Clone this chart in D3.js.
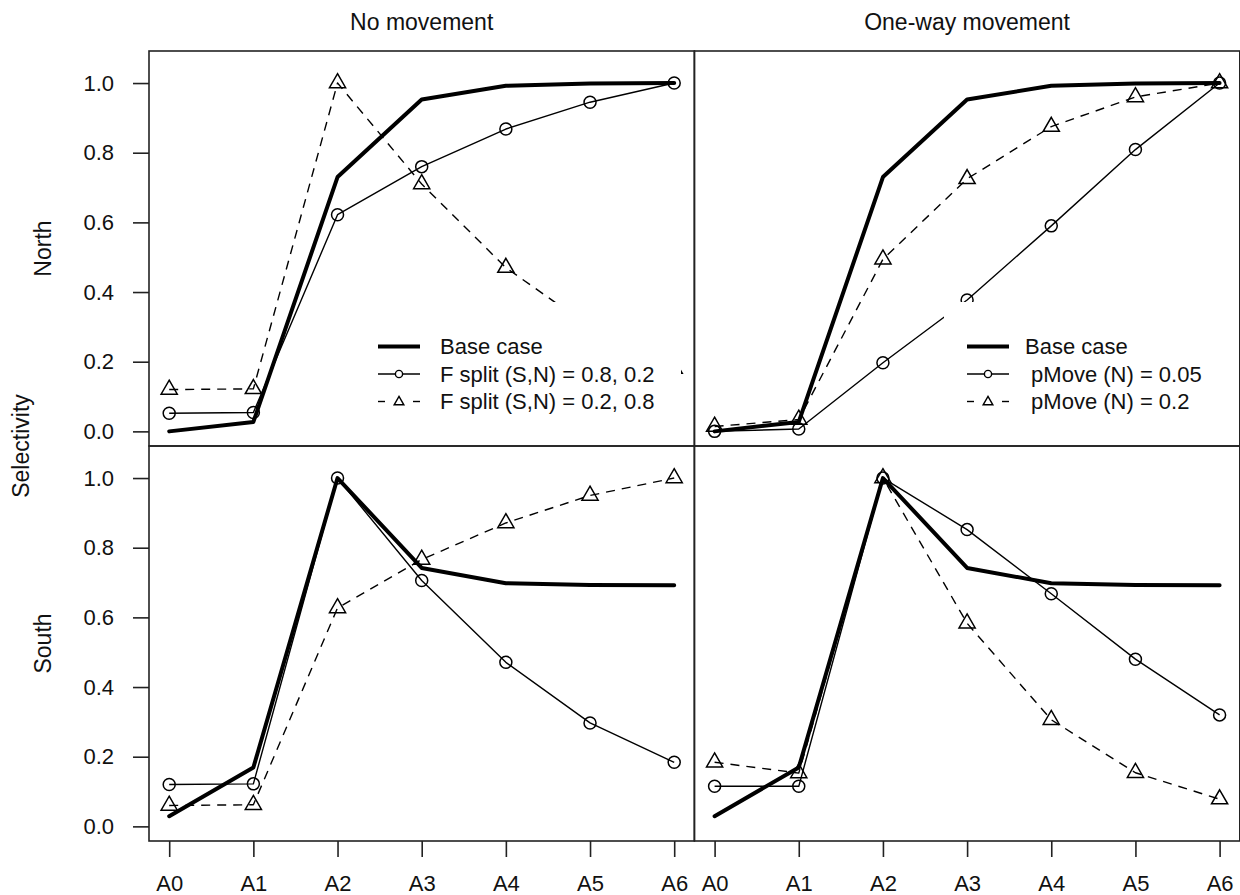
<!DOCTYPE html>
<html>
<head>
<meta charset="utf-8">
<script src="https://cdn.jsdelivr.net/npm/d3@7"></script>
<style>
  html, body { margin: 0; padding: 0; background: #fff; }
  svg { display: block; font-family: "Liberation Sans", Arial, Helvetica, sans-serif; }
  text { fill: #111; white-space: pre; }
</style>
</head>
<body>
<svg id="chart" width="1240" height="895"></svg>
<script>
// ---------------- data ----------------
const ages = ["A0", "A1", "A2", "A3", "A4", "A5", "A6"];
const yTicks = [0, 0.2, 0.4, 0.6, 0.8, 1.0];
const colTitles = ["No movement", "One-way movement"];
const rowTitles = ["North", "South"];
const yAxisTitle = "Selectivity";

const baseNorth = [0.0, 0.027, 0.73, 0.953, 0.992, 0.999, 1.0];
const baseSouth = [0.029, 0.169, 1.0, 0.742, 0.698, 0.693, 0.692];

// No movement
const fsplit82North = [0.052, 0.054, 0.622, 0.76, 0.868, 0.945, 1.0];
const fsplit28North = [0.12, 0.122, 1.0, 0.71, 0.47, 0.30, 0.18];
const fsplit82South = [0.12, 0.122, 1.0, 0.706, 0.471, 0.297, 0.184];
const fsplit28South = [0.06, 0.062, 0.627, 0.766, 0.871, 0.95, 1.0];

// One-way movement
const pmove005North = [0.0, 0.007, 0.197, 0.377, 0.59, 0.809, 1.0];
const pmove02North = [0.014, 0.034, 0.494, 0.725, 0.875, 0.96, 1.0];
const pmove005South = [0.115, 0.115, 1.0, 0.852, 0.668, 0.48, 0.32];
const pmove02South = [0.184, 0.153, 1.0, 0.583, 0.306, 0.154, 0.078];

const legendNoMove = ["Base case", "F split (S,N) = 0.8, 0.2", "F split (S,N) = 0.2, 0.8"];
const legendOneWay = ["Base case", " pMove (N) = 0.05", " pMove (N) = 0.2"];

// ---------------- layout ----------------
const svg = d3.select("#chart");
const panelLeft = [149, 694.4];
const panelTop = [51, 446];
const panelW = 545.4, panelH = 395;
const FS = 22;
const FT = 23;         // title / margin label size
const R0 = 6;          // circle radius in plot
const RL = 3.6;        // circle radius in legend

const panels = [
  {row: 0, col: 0, series: [baseNorth, fsplit82North, fsplit28North], legend: legendNoMove},
  {row: 0, col: 1, series: [baseNorth, pmove005North, pmove02North], legend: legendOneWay},
  {row: 1, col: 0, series: [baseSouth, fsplit82South, fsplit28South], legend: null},
  {row: 1, col: 1, series: [baseSouth, pmove005South, pmove02South], legend: null}
];

function triPath(cx, cy, r) {
  const a = 1.5551 * r, b = 0.7776 * r, c = 1.3468 * r;
  return `M${cx},${cy - a}L${cx + c},${cy + b}L${cx - c},${cy + b}Z`;
}

const styles = [
  {w: 4, dash: null, marker: null},
  {w: 1.4, dash: null, marker: "circle"},
  {w: 1.4, dash: "9,7", marker: "tri"}
];

panels.forEach(p => {
  const x0 = panelLeft[p.col], y0 = panelTop[p.row];
  const x = d3.scaleLinear().domain([-0.24, 6.24]).range([x0, x0 + panelW]);
  const y = d3.scaleLinear().domain([-0.042, 1.092]).range([y0 + panelH, y0]);
  const g = svg.append("g");

  const line = d3.line().x((d, i) => x(i)).y(d => y(d));

  p.series.forEach((s, k) => {
    const st = styles[k];
    g.append("path").datum(s).attr("d", line)
      .attr("fill", "none").attr("stroke", "#000").attr("stroke-width", st.w)
      .attr("stroke-linejoin", "round").attr("stroke-linecap", k === 0 ? "round" : "butt")
      .attr("stroke-dasharray", st.dash);
    if (st.marker === "circle") {
      g.selectAll(null).data(s).enter().append("circle")
        .attr("cx", (d, i) => x(i)).attr("cy", d => y(d)).attr("r", R0)
        .attr("fill", "none").attr("stroke", "#000").attr("stroke-width", 1.5);
    } else if (st.marker === "tri") {
      g.selectAll(null).data(s).enter().append("path")
        .attr("d", (d, i) => triPath(x(i), y(d), R0))
        .attr("fill", "none").attr("stroke", "#000").attr("stroke-width", 1.5)
        .attr("stroke-linejoin", "miter");
    }
  });

  // legend (with white background box covering the data below it)
  if (p.legend) {
    const lx = p.col === 0 ? 378 : 967;
    const tx = p.col === 0 ? 440 : 1025;
    const boxL = lx - 23, boxR = p.col === 0 ? 681 : 1228;
    const rows = [346.5, 374, 401.5];
    const lg = svg.append("g");
    lg.append("rect").attr("x", boxL).attr("y", 302).attr("width", boxR - boxL).attr("height", 123)
      .attr("fill", "#fff");
    p.legend.forEach((lab, k) => {
      const ry = rows[k];
      const st = styles[k];
      const segs = st.dash ? [[0, 7], [35, 42]] : [[0, 42]];
      segs.forEach(sg => {
        lg.append("line").attr("x1", lx + sg[0]).attr("x2", lx + sg[1]).attr("y1", ry).attr("y2", ry)
          .attr("stroke", "#000").attr("stroke-width", st.w);
      });
      if (st.marker === "circle") {
        lg.append("circle").attr("cx", lx + 21).attr("cy", ry).attr("r", RL)
          .attr("fill", "#fff").attr("stroke", "#000").attr("stroke-width", 1.4);
      } else if (st.marker === "tri") {
        lg.append("path").attr("d", triPath(lx + 21, ry + 0.5, RL))
          .attr("fill", "none").attr("stroke", "#000").attr("stroke-width", 1.4);
      }
      lg.append("text").attr("x", tx).attr("y", ry).attr("dy", "0.35em")
        .attr("font-size", FS).text(lab);
    });
  }

  // box
  g.append("rect").attr("x", x0).attr("y", y0).attr("width", panelW).attr("height", panelH)
    .attr("fill", "none").attr("stroke", "#222").attr("stroke-width", 1.6);

  // axes
  if (p.col === 0) {
    const ax = svg.append("g").attr("transform", `translate(${x0},0)`)
      .call(d3.axisLeft(y).tickValues(yTicks).tickFormat(d3.format(".1f")).tickSize(16).tickPadding(19));
    ax.select(".domain").remove();
    ax.selectAll("line").attr("stroke", "#222").attr("stroke-width", 1.6);
    ax.selectAll("text").attr("font-size", FS).attr("font-family", null).attr("fill", "#111");
  }
  if (p.row === 1) {
    const xb = d3.scaleLinear().domain([-0.24, 6.24]).range([x0, x0 + panelW]);
    const ax = svg.append("g").attr("transform", `translate(0,${y0 + panelH})`)
      .call(d3.axisBottom(xb).tickValues(d3.range(ages.length)).tickFormat(i => ages[i])
        .tickSize(16).tickPadding(18));
    ax.select(".domain").remove();
    ax.selectAll("line").attr("stroke", "#222").attr("stroke-width", 1.6);
    ax.selectAll("text").attr("font-size", FS).attr("font-family", null).attr("fill", "#111");
  }
});

// titles
colTitles.forEach((t, c) => {
  svg.append("text").attr("x", panelLeft[c] + panelW / 2).attr("y", 22).attr("dy", "0.35em")
    .attr("text-anchor", "middle").attr("font-size", FT).text(t);
});
rowTitles.forEach((t, r) => {
  const cy = panelTop[r] + panelH / 2;
  svg.append("text").attr("transform", `translate(43,${cy}) rotate(-90)`)
    .attr("text-anchor", "middle").attr("dy", "0.35em").attr("font-size", FT).text(t);
});
svg.append("text").attr("transform", `translate(21,${(panelTop[0] + panelTop[1] + panelH) / 2}) rotate(-90)`)
  .attr("text-anchor", "middle").attr("dy", "0.35em").attr("font-size", FT).text(yAxisTitle);
</script>
</body>
</html>
